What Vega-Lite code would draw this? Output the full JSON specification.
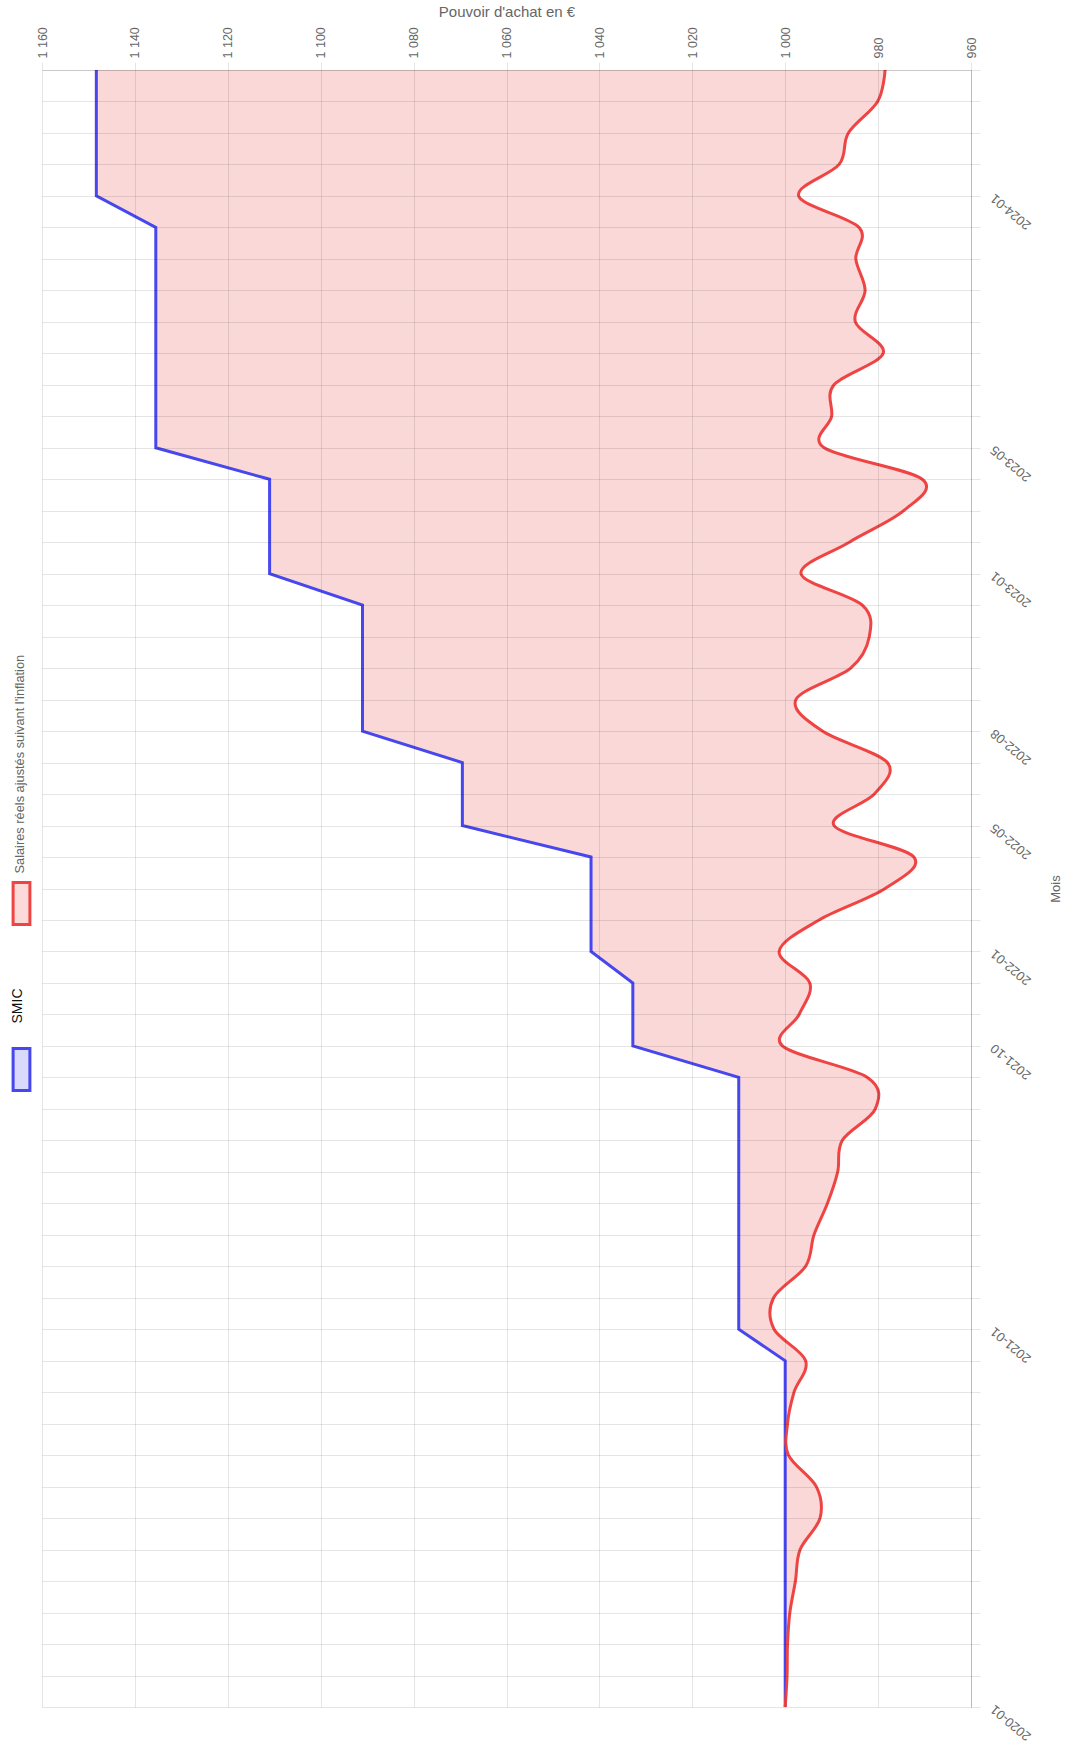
{
  "$schema": "https://vega.github.io/schema/vega-lite/v6.json",
  "width": 929,
  "height": 1637,
  "autosize": "none",
  "padding": {"left": 42, "top": 70, "right": 100, "bottom": 36},
  "background": "white",
  "data": {
    "values": [
      {"mois": "2020-01", "smic": 1000, "salaire": 1000},
      {"mois": "2020-02", "smic": 1000, "salaire": 999.6},
      {"mois": "2020-03", "smic": 1000, "salaire": 999.5},
      {"mois": "2020-04", "smic": 1000, "salaire": 999.0},
      {"mois": "2020-05", "smic": 1000, "salaire": 997.8},
      {"mois": "2020-06", "smic": 1000, "salaire": 996.8},
      {"mois": "2020-07", "smic": 1000, "salaire": 992.5},
      {"mois": "2020-08", "smic": 1000, "salaire": 993.3},
      {"mois": "2020-09", "smic": 1000, "salaire": 999.3},
      {"mois": "2020-10", "smic": 1000, "salaire": 999.5},
      {"mois": "2020-11", "smic": 1000, "salaire": 998.1},
      {"mois": "2020-12", "smic": 1000, "salaire": 995.6},
      {"mois": "2021-01", "smic": 1010, "salaire": 1002.4},
      {"mois": "2021-02", "smic": 1010, "salaire": 1002.5},
      {"mois": "2021-03", "smic": 1010, "salaire": 995.6},
      {"mois": "2021-04", "smic": 1010, "salaire": 993.8},
      {"mois": "2021-05", "smic": 1010, "salaire": 990.9},
      {"mois": "2021-06", "smic": 1010, "salaire": 988.7},
      {"mois": "2021-07", "smic": 1010, "salaire": 987.7},
      {"mois": "2021-08", "smic": 1010, "salaire": 980.6},
      {"mois": "2021-09", "smic": 1010, "salaire": 982.3},
      {"mois": "2021-10", "smic": 1032.8, "salaire": 1000.6},
      {"mois": "2021-11", "smic": 1032.8, "salaire": 997.0},
      {"mois": "2021-12", "smic": 1032.8, "salaire": 994.7},
      {"mois": "2022-01", "smic": 1041.8, "salaire": 1001.3},
      {"mois": "2022-02", "smic": 1041.8, "salaire": 992.7},
      {"mois": "2022-03", "smic": 1041.8, "salaire": 978.5},
      {"mois": "2022-04", "smic": 1041.8, "salaire": 972.3},
      {"mois": "2022-05", "smic": 1069.5, "salaire": 989.5},
      {"mois": "2022-06", "smic": 1069.5, "salaire": 980.8},
      {"mois": "2022-07", "smic": 1069.5, "salaire": 978.0},
      {"mois": "2022-08", "smic": 1091, "salaire": 992.0},
      {"mois": "2022-09", "smic": 1091, "salaire": 997.7},
      {"mois": "2022-10", "smic": 1091, "salaire": 985.9},
      {"mois": "2022-11", "smic": 1091, "salaire": 981.9},
      {"mois": "2022-12", "smic": 1091, "salaire": 983.4},
      {"mois": "2023-01", "smic": 1111, "salaire": 996.6},
      {"mois": "2023-02", "smic": 1111, "salaire": 986.2},
      {"mois": "2023-03", "smic": 1111, "salaire": 974.5},
      {"mois": "2023-04", "smic": 1111, "salaire": 970.5},
      {"mois": "2023-05", "smic": 1135.5, "salaire": 991.6},
      {"mois": "2023-06", "smic": 1135.5, "salaire": 990.0},
      {"mois": "2023-07", "smic": 1135.5, "salaire": 989.5},
      {"mois": "2023-08", "smic": 1135.5, "salaire": 978.9},
      {"mois": "2023-09", "smic": 1135.5, "salaire": 984.9},
      {"mois": "2023-10", "smic": 1135.5, "salaire": 982.8},
      {"mois": "2023-11", "smic": 1135.5, "salaire": 984.8},
      {"mois": "2023-12", "smic": 1135.5, "salaire": 984.1},
      {"mois": "2024-01", "smic": 1148.3, "salaire": 997.1},
      {"mois": "2024-02", "smic": 1148.3, "salaire": 988.4},
      {"mois": "2024-03", "smic": 1148.3, "salaire": 986.4},
      {"mois": "2024-04", "smic": 1148.3, "salaire": 980.1},
      {"mois": "2024-05", "smic": 1148.3, "salaire": 978.5}
    ]
  },
  "layer": [
    {
      "mark": {"type": "area", "interpolate": "cardinal", "fill": "#fbd8d8", "opacity": 1},
      "encoding": {
        "y": {
          "field": "mois", "type": "ordinal", "sort": "descending", "title": "Mois",
          "scale": {"type": "point", "padding": 0},
          "axis": {
            "orient": "right", "grid": true, "gridColor": "#000000", "gridOpacity": 0.1,
            "tickColor": "#000000", "tickOpacity": 0.1, "tickSize": 9,
            "domainColor": "#000000", "domainOpacity": 0.18,
            "labelAngle": 220, "labelAlign": "right", "labelBaseline": "middle", "labelPadding": 12,
            "labelOverlap": false, "labelFontSize": 13, "labelColor": "#666666",
            "labelExpr": "indexof(['2020-01','2021-01','2021-10','2022-01','2022-05','2022-08','2023-01','2023-05','2024-01'], datum.value) >= 0 ? datum.value : ''",
            "titleAngle": 270, "titleBaseline": "top", "titleColor": "#666666", "titleFontSize": 13,
            "titleFontWeight": "normal", "titlePadding": 16, "zindex": 1
          }
        },
        "x": {
          "field": "salaire", "type": "quantitative", "title": "Pouvoir d'achat en €",
          "scale": {"domain": [960, 1160], "reverse": true, "nice": false, "zero": false},
          "axis": {
            "orient": "top", "values": [960, 980, 1000, 1020, 1040, 1060, 1080, 1100, 1120, 1140, 1160],
            "grid": true, "gridColor": "#000000", "gridOpacity": 0.1,
            "tickColor": "#000000", "tickOpacity": 0.1, "tickSize": 8,
            "domainColor": "#000000", "domainOpacity": 0.12,
            "labelExpr": "replace(format(datum.value, ','), ',', ' ')",
            "labelAngle": 270, "labelAlign": "left", "labelBaseline": "middle", "labelPadding": 4,
            "labelFontSize": 12.5, "labelColor": "#666666",
            "titleColor": "#666666", "titleFontSize": 15, "titleFontWeight": "normal", "titlePadding": 7,
            "zindex": 1
          }
        },
        "x2": {"datum": 1160}
      }
    },
    {
      "mark": {"type": "area", "interpolate": "linear", "fill": "#ffffff", "opacity": 1},
      "encoding": {
        "y": {"field": "mois", "type": "ordinal", "sort": "descending", "title": "Mois"},
        "x": {"field": "smic", "type": "quantitative", "title": "Pouvoir d'achat en €"},
        "x2": {"datum": 1160}
      }
    },
    {
      "mark": {"type": "line", "interpolate": "linear", "stroke": "#4747ee", "strokeWidth": 3},
      "encoding": {
        "y": {"field": "mois", "type": "ordinal", "sort": "descending", "title": "Mois"},
        "x": {"field": "smic", "type": "quantitative", "title": "Pouvoir d'achat en €"},
        "order": {"field": "mois", "type": "ordinal"}
      }
    },
    {
      "mark": {"type": "line", "interpolate": "cardinal", "stroke": "#ef4444", "strokeWidth": 3},
      "encoding": {
        "y": {"field": "mois", "type": "ordinal", "sort": "descending", "title": "Mois"},
        "x": {"field": "salaire", "type": "quantitative", "title": "Pouvoir d'achat en €"},
        "order": {"field": "mois", "type": "ordinal"}
      }
    },
    {
      "transform": [{"fold": ["salaire", "smic"], "as": ["code", "valeur"]}],
      "mark": {"type": "point", "filled": true, "opacity": 0, "shape": "M-0.4,-1H0.4V1H-0.4Z"},
      "encoding": {
        "y": {"field": "mois", "type": "ordinal", "sort": "descending", "title": "Mois"},
        "x": {"field": "valeur", "type": "quantitative", "title": "Pouvoir d'achat en €"},
        "fill": {
          "field": "code", "type": "nominal",
          "scale": {"domain": ["salaire", "smic"], "range": ["#fcdada", "#d9d9fb"]},
          "legend": {
            "orient": "none", "legendX": -43, "legendY": 811, "direction": "vertical", "title": null,
            "symbolType": "M-0.4,-1H0.4V1H-0.4Z", "symbolSize": 1764, "symbolStrokeWidth": 3,
            "labelLimit": 400, "labelFontSize": 12.8, "labelColor": "#666666", "labelOffset": 4, "rowPadding": 57, "padding": 0,
            "labelExpr": "datum.value === 'smic' ? 'SMIC' : \"Salaires réels ajustés suivant l'inflation\"",
            "encoding": {
              "labels": {
                "angle": {"value": 270},
                "dx": {"condition": {"test": "datum.value === 'smic'", "value": 46}, "value": 30},
                "dy": {"condition": {"test": "datum.value === 'smic'", "value": -30}, "value": -28},
                "fill": {"condition": {"test": "datum.value === 'smic'", "value": "#111111"}, "value": "#666666"},
                "fontSize": {"condition": {"test": "datum.value === 'smic'", "value": 14}, "value": 12.8}
              }
            }
          }
        },
        "stroke": {
          "field": "code", "type": "nominal",
          "scale": {"domain": ["salaire", "smic"], "range": ["#ef4444", "#4747ee"]},
          "legend": {
            "orient": "none", "legendX": -43, "legendY": 811, "direction": "vertical", "title": null,
            "symbolType": "M-0.4,-1H0.4V1H-0.4Z", "symbolSize": 1764, "symbolStrokeWidth": 3,
            "labelLimit": 400, "labelFontSize": 12.8, "labelColor": "#666666", "labelOffset": 4, "rowPadding": 57, "padding": 0,
            "labelExpr": "datum.value === 'smic' ? 'SMIC' : \"Salaires réels ajustés suivant l'inflation\"",
            "encoding": {
              "labels": {
                "angle": {"value": 270},
                "dx": {"condition": {"test": "datum.value === 'smic'", "value": 46}, "value": 30},
                "dy": {"condition": {"test": "datum.value === 'smic'", "value": -30}, "value": -28},
                "fill": {"condition": {"test": "datum.value === 'smic'", "value": "#111111"}, "value": "#666666"},
                "fontSize": {"condition": {"test": "datum.value === 'smic'", "value": 14}, "value": 12.8}
              }
            }
          }
        }
      }
    }
  ],
  "config": {
    "view": {"stroke": null},
    "font": "Liberation Sans"
  }
}
